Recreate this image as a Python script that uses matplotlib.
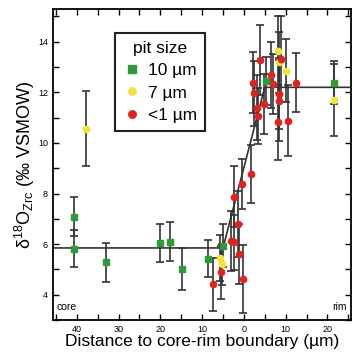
import matplotlib
matplotlib.use("Agg")
import matplotlib.pyplot as plt
from matplotlib.ticker import MultipleLocator, FuncFormatter

plt.rcParams['font.family'] = ['Liberation Sans', 'DejaVu Sans']
plt.rcParams['mathtext.fontset'] = 'custom'
plt.rcParams['mathtext.rm'] = 'Liberation Sans'
plt.rcParams['mathtext.it'] = 'Liberation Sans'

# 10 um pits (green)
x_10 = [-40.6, -40.6, -33.1, -20.0, -17.8, -14.9, -8.7, -4.9, 5.3, 21.5]
y_10 = [7.09, 5.81, 5.28, 6.03, 6.10, 5.02, 5.43, 5.94, 12.46, 12.39]
e_10 = [0.78, 0.73, 0.77, 0.75, 0.76, 0.83, 0.72, 0.85, 0.95, 0.85]

# 7 um pits (yellow)
x_7 = [-37.7, -5.6, -5.2, 8.1, 8.5, 10.1, 21.6]
y_7 = [10.57, 5.45, 5.20, 13.65, 13.19, 12.85, 11.70]
e_7 = [1.48, 0.9, 0.8, 1.35, 1.2, 1.25, 1.42]

# <1 um pits (red)
x_1 = [-7.5, -5.5, -3.1, -2.3, -2.3, -1.5, -1.1, -0.3, -0.5, 1.7, 2.1, 2.5,
       3.1, 3.3, 3.9, 4.9, 6.5, 6.9, 8.5, 8.5, 8.1, 8.9, 10.5, 12.5]
y_1 = [4.42, 4.88, 6.13, 6.07, 7.87, 6.79, 5.61, 4.62, 8.37, 8.77, 12.39, 11.96,
       11.40, 11.07, 13.28, 11.54, 12.70, 12.33, 11.94, 11.67, 10.81, 13.32, 10.88, 12.39]
e_1 = [1.05, 1.05, 1.2, 1.1, 1.2, 1.3, 1.2, 1.35, 1.0, 1.15, 1.2, 1.3,
       1.3, 1.1, 1.4, 1.2, 1.3, 1.2, 1.4, 1.6, 1.5, 1.7, 1.4, 1.15]

# core-rim profile
x_prof = [-46, -5, 5, 26]
y_prof = [5.85, 5.85, 12.2, 12.2]

fig = plt.figure(figsize=(3.53, 3.56), dpi=100)
ax = fig.add_axes([0.150, 0.101, 0.845, 0.874])

ax.plot(x_prof, y_prof, color='#333333', lw=1.2, zorder=2)

series = [
    (x_10, y_10, e_10, '#2e9a3a', 's', '10 µm'),
    (x_7, y_7, e_7, '#f2e23a', 'o', '7 µm'),
    (x_1, y_1, e_1, '#e0231f', 'o', '<1 µm'),
]
for xs, ys, es, c, m, lab in series:
    ax.errorbar(xs, ys, yerr=es, fmt='none', ecolor='#333333', elinewidth=1.2,
                capsize=3, capthick=1.2, zorder=3)
for xs, ys, es, c, m, lab in series:
    ax.plot(xs, ys, ls='none', marker=m, ms=4.5, mfc=c, mec=c, label=lab, zorder=4)

ax.set_xlim(-45.7, 25.7)
ax.set_ylim(3, 15.3)
ax.xaxis.set_major_locator(MultipleLocator(10))
ax.xaxis.set_minor_locator(MultipleLocator(5))
ax.yaxis.set_major_locator(MultipleLocator(2))
ax.yaxis.set_minor_locator(MultipleLocator(1))
ax.xaxis.set_major_formatter(FuncFormatter(lambda v, p: '%d' % abs(v)))
ax.tick_params(which='both', direction='in', top=True, right=True, labelsize=6.5, width=1)
ax.tick_params(which='major', length=4)
ax.tick_params(which='minor', length=4)
for s in ax.spines.values():
    s.set_linewidth(1.3)

ax.set_xlabel('Distance to core-rim boundary (µm)', fontsize=12.5, labelpad=0)
ax.set_ylabel('δ$^{18}$O$_{Zrc}$ (‰ VSMOW)', fontsize=13, labelpad=1)

ax.text(0.012, 0.025, 'core', transform=ax.transAxes, fontsize=7.5, ha='left', va='bottom')
ax.text(0.985, 0.025, 'rim', transform=ax.transAxes, fontsize=7.5, ha='right', va='bottom')

leg = ax.legend(loc='upper left', bbox_to_anchor=(0.209, 0.923), borderaxespad=0,
                title='pit size', fontsize=12.5, title_fontsize=12.5, fancybox=False,
                framealpha=1, edgecolor='#222222', handletextpad=0.45,
                handlelength=1.0, labelspacing=0.42, borderpad=0.45, markerscale=1.2)
leg.get_frame().set_linewidth(1.5)

fig.savefig('out.png', dpi=100)
